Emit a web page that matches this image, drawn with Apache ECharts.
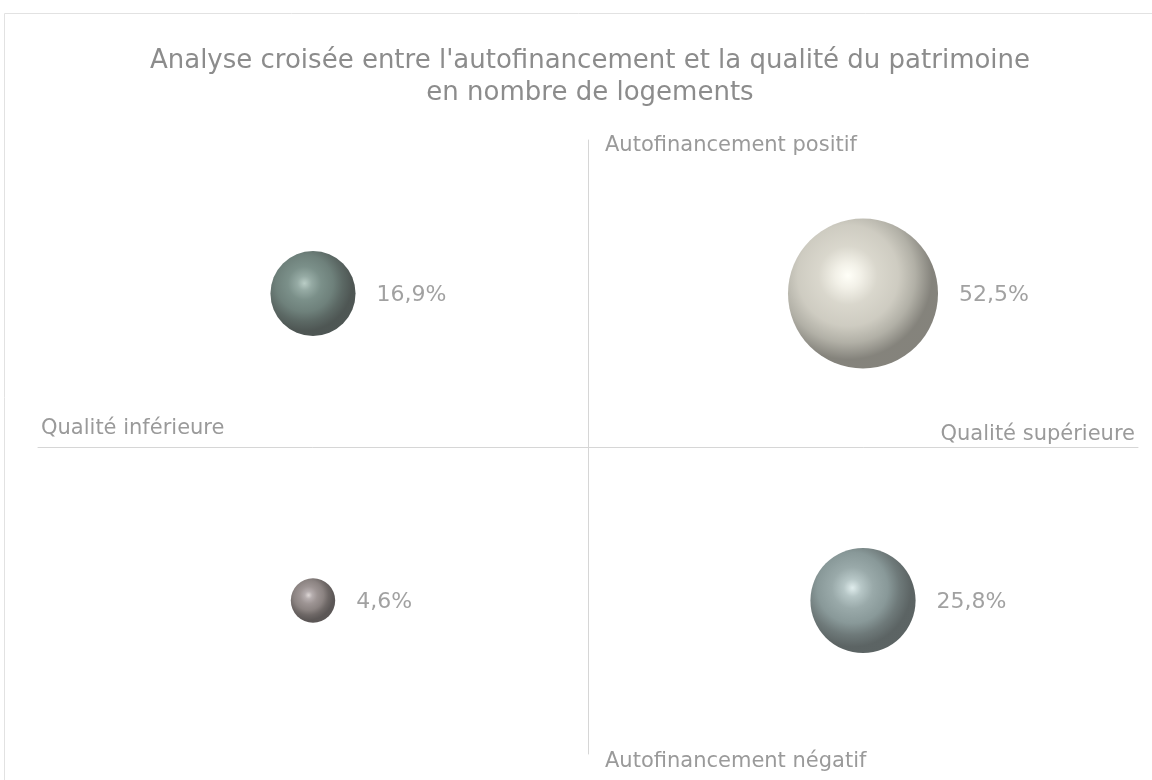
<!DOCTYPE html>
<html>
<head>
<meta charset="utf-8">
<script src="https://cdn.jsdelivr.net/npm/echarts@6/dist/echarts.min.js"></script>
<style>
  html, body { margin: 0; padding: 0; background: #fff; }
  #chart { width: 1152px; height: 780px; }
</style>
</head>
<body>
<div id="chart"></div>
<script>
// quadrants : qualité (x) / autofinancement (y)
const quadrants = ["Inférieure / positif", "Supérieure / positif", "Inférieure / négatif", "Supérieure / négatif"];
const qualite = [-0.5, 0.5, -0.5, 0.5];
const autofinancement = [0.5, 0.5, -0.5, -0.5];
const parts = [16.9, 52.5, 4.6, 25.8];
// dégradés des sphères, du reflet vers le bord
const shades = [
  ["#a8c0b7", "#7b958d", "#5a746c", "#4a615a", "#33433e", "#222c29"],
  ["#fffff6", "#efede2", "#d0cdc0", "#c2bfb2", "#9e9c90", "#66645b"],
  ["#d5cdcb", "#a3999a", "#857a79", "#6e6462", "#4a4240", "#332d2c"],
  ["#d8e8e8", "#a4b8b8", "#809494", "#6b7f7f", "#4a5858", "#333d3d"],
];

const chart = echarts.init(document.getElementById("chart"));

const sphere = (i) => ({
  type: "radial",
  x: 0.4, y: 0.38, r: 0.56,
  colorStops: [0, 0.15, 0.35, 0.6, 0.8, 1].map((o, k) => ({ offset: o, color: shades[i][k] })),
});

const maxSize = 150;
const data = parts.map((v, i) => ({
  name: quadrants[i],
  value: [qualite[i], autofinancement[i], v],
  symbolSize: maxSize * Math.sqrt(v / 52.5),
  itemStyle: { color: sphere(i) },
}));

const axisCommon = {
  type: "value",
  min: -1,
  max: 1,
  axisLine: { show: true, onZero: true, lineStyle: { color: "#d6d6d6", width: 1 } },
  axisTick: { show: false },
  axisLabel: { show: false },
  splitLine: { show: false },
};

const labelStyle = { fill: "#9a9a9a", fontSize: 21, fontFamily: "DejaVu Sans" };

chart.setOption({
  animation: false,
  title: {
    text: "Analyse croisée entre l'autofinancement et la qualité du patrimoine\nen nombre de logements",
    left: 585,
    top: 40,
    textAlign: "center",
    textStyle: {
      color: "#8c8c8c",
      fontSize: 26,
      fontWeight: "normal",
      lineHeight: 32,
      fontFamily: "DejaVu Sans",
    },
  },
  grid: { left: 38, right: 14, top: 140, bottom: 26 },
  xAxis: axisCommon,
  yAxis: axisCommon,
  graphic: [
    { type: "rect", shape: { x: 4.5, y: 13.5, width: 1200, height: 800 }, style: { fill: "none", stroke: "#e2e2e2" }, silent: true },
    { type: "text", left: 41, top: 418, style: Object.assign({ text: "Qualité inférieure" }, labelStyle) },
    { type: "text", right: 17, top: 424, style: Object.assign({ text: "Qualité supérieure" }, labelStyle) },
    { type: "text", left: 605, top: 135, style: Object.assign({ text: "Autofinancement positif" }, labelStyle) },
    { type: "text", left: 605, top: 751, style: Object.assign({ text: "Autofinancement négatif" }, labelStyle) },
  ],
  series: [
    {
      type: "scatter",
      data: data,
      label: {
        show: true,
        position: "right",
        distance: 21,
        offset: [0, 2],
        color: "#8a8a8a",
        fontSize: 22,
        fontFamily: "DejaVu Sans",
        formatter: (p) => p.value[2].toFixed(1).replace(".", ",") + "%",
      },
      emphasis: { disabled: true },
    },
  ],
});
</script>
</body>
</html>
